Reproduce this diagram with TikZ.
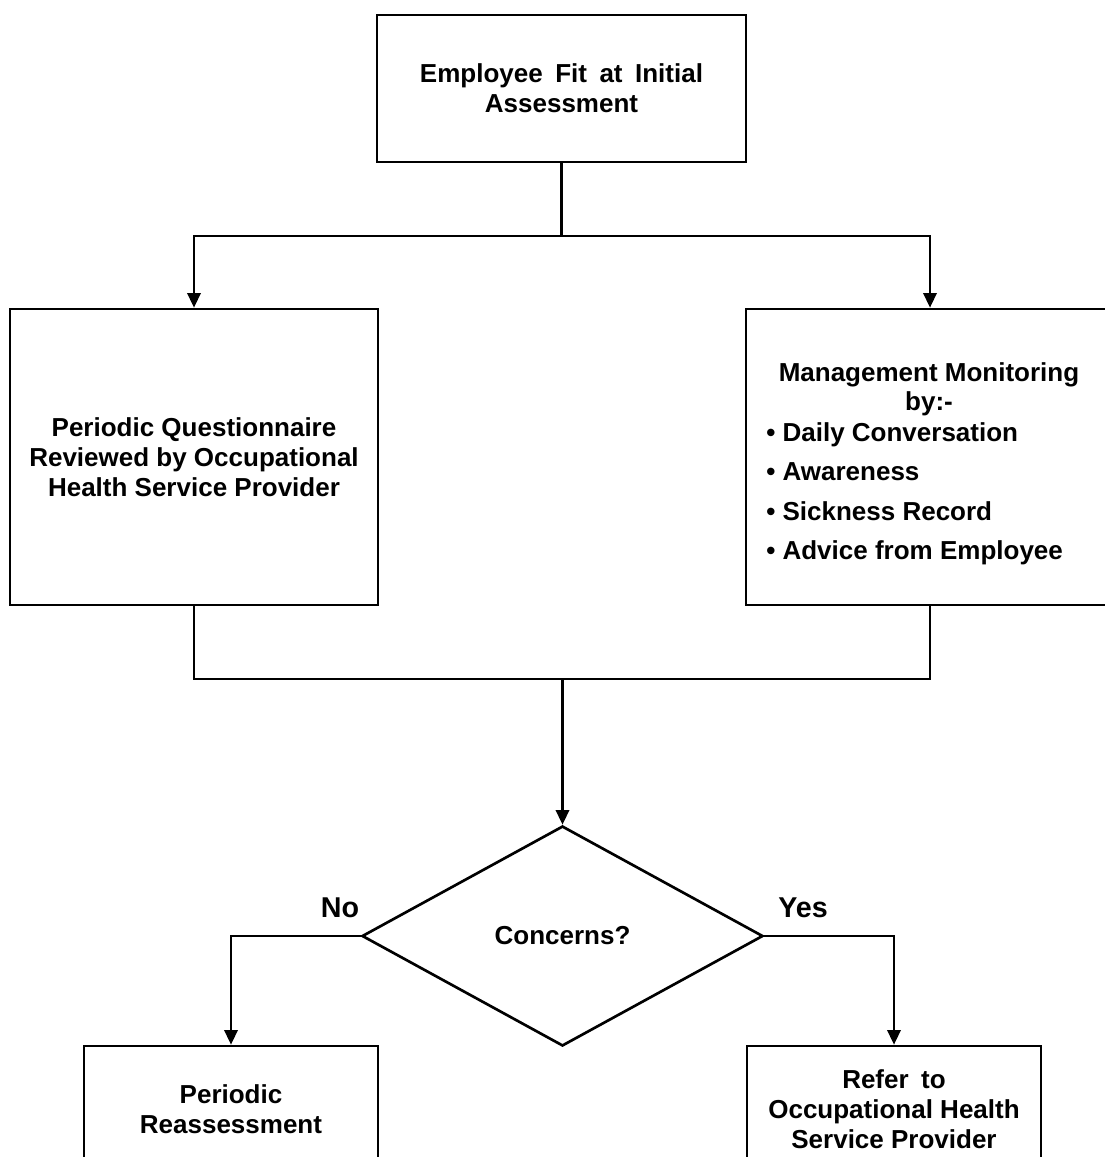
\documentclass[tikz,border=0pt]{standalone}
\usepackage{fontspec}
\setmainfont{Liberation Sans}
\usetikzlibrary{arrows.meta,shapes.geometric}
\newcommand\wsp{\hspace{0.48em}}
\begin{document}
\begin{tikzpicture}[x=0.75pt,y=-0.75pt,
  box/.style={draw, line width=2pt, rectangle, align=center, inner sep=0pt},
  txt/.style={font=\fontsize{19.5pt}{22.5pt}\selectfont\bfseries},
  lbl/.style={font=\fontsize{21.5pt}{24pt}\selectfont\bfseries, inner sep=0pt},
  itm/.style={txt, anchor=base west, inner sep=0pt},
  conn/.style={line width=1.8pt},
  arr/.style={conn, -{Triangle[length=11pt,width=10pt]}}]
\useasboundingbox (0,0) rectangle (1105,1157);

\node[box,txt,minimum width=276.75pt,minimum height=110.25pt] (top) at (561.5,88.5)
  {\raisebox{-1.5pt}{Employee\wsp Fit\wsp at\wsp Initial}\\\raisebox{-1.5pt}{Assessment}};
\node[box,txt,minimum width=276pt,minimum height=222pt] (lbox) at (194,457)
  {Periodic Questionnaire\\Reviewed by Occupational\\Health Service Provider};
\node[box,minimum width=276pt,minimum height=222pt] (rbox) at (930,457) {};
\node[txt, anchor=base, inner sep=0pt] (rt1) at (929,381) {Management Monitoring};
\node[txt, anchor=base, inner sep=0pt] (rt2) at (929,410) {by:-};
\node[itm] (li1) at (766,441) {•~Daily Conversation};
\node[itm] (li2) at (766,480) {•~Awareness};
\node[itm] (li3) at (766,520) {•~Sickness Record};
\node[itm] (li4) at (766,559) {•~Advice from Employee};

\node[draw, diamond, line width=2pt, minimum width=300.75pt, minimum height=165pt,
  inner sep=0pt, txt] (dia) at (562.5,936) {\raisebox{-1.5pt}{Concerns?}};

\node[box,txt,minimum width=220.5pt,minimum height=94.5pt] (bl) at (231,1109)
  {Periodic\\Reassessment};
\node[box,txt,minimum width=220.5pt,minimum height=94.5pt] (br) at (894,1109)
  {Refer\wsp to\\Occupational Health\\Service Provider};

\node[lbl] (no) at (340,908) {No};
\node[lbl] (yes) at (803,908) {Yes};

\coordinate (j1) at (561.5,236);
\coordinate (j2) at (562.5,679);
\draw[conn] (top.south) -- (j1);
\draw[arr] (j1) -| (lbox.north);
\draw[arr] (j1) -| (rbox.north);
\draw[conn] (lbox.south) |- (j2);
\draw[conn] (rbox.south) |- (j2);
\draw[arr] (j2) -- (dia.north);
\draw[arr] (dia.west) -| (bl.north);
\draw[arr] (dia.east) -| (br.north);
\end{tikzpicture}
\end{document}
